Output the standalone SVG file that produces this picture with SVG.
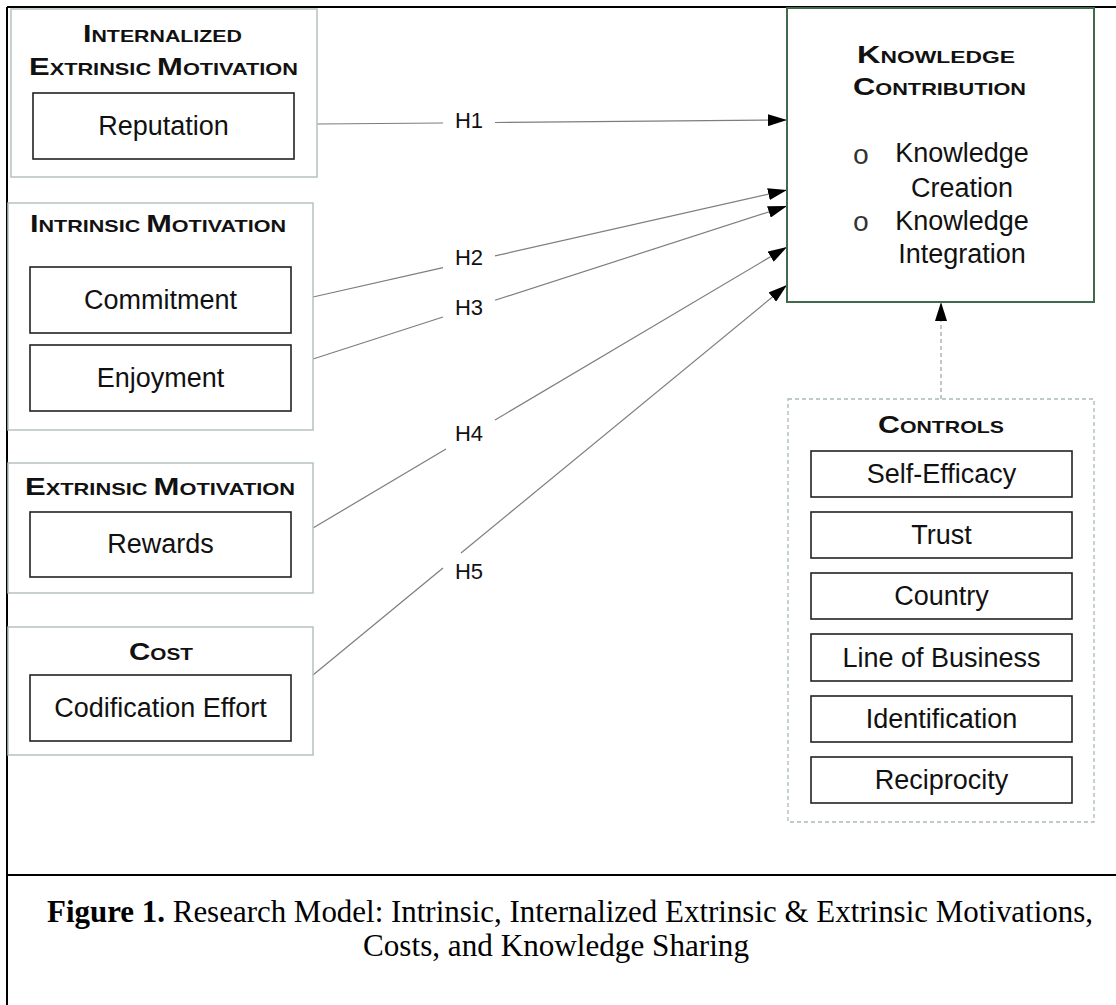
<svg xmlns="http://www.w3.org/2000/svg" width="1116" height="1005" viewBox="0 0 1116 1005">
<style>
.frame{stroke:#000;stroke-width:2;fill:none}
.outer{fill:none;stroke:#b4c3b9;stroke-width:1.5}
.inner{fill:#fff;stroke:#222;stroke-width:1.6}
.kc{fill:#fff;stroke:#3f6b4c;stroke-width:2}
.ctl{fill:none;stroke:#a9bcb0;stroke-width:1.3;stroke-dasharray:4 3}
.lbl{font-family:"Liberation Sans",Arial,sans-serif;font-size:27px;fill:#111;text-anchor:middle}
.ttl{font-family:"Liberation Sans",Arial,sans-serif;font-weight:bold;font-size:16.5px;fill:#111}
.big{font-size:23.5px}
.h{font-family:"Liberation Sans",Arial,sans-serif;font-size:22px;fill:#111;text-anchor:middle}
.bul{font-family:"Liberation Mono","Courier New",monospace;font-size:28px;fill:#333;text-anchor:middle}
.con{stroke:#7d7d7d;stroke-width:1.2;fill:none}
.dash{stroke:#a0a0a0;stroke-width:1.2;stroke-dasharray:4 3;fill:none}
.cap{font-family:"Liberation Serif","Times New Roman",serif;font-size:31px;fill:#000}
</style>
<defs>
<marker id="arr" viewBox="0 0 19 12" refX="19" refY="6" markerWidth="19" markerHeight="12" markerUnits="userSpaceOnUse" orient="auto">
<path d="M0,0 L19,6 L0,12 Z" fill="#000"/>
</marker>
</defs>
<rect width="1116" height="1005" fill="#fff"/>
<g id="frame">
<path class="frame" d="M7,7 H1116 M7,7 V1005 M7,875 H1116"/>
</g>
<g id="connectors">
<path class="con" d="M317,124 L443,123"/>
<path class="con" d="M495,122.5 L787,120" marker-end="url(#arr)"/>
<path class="con" d="M313,297 L443,267.7"/>
<path class="con" d="M495,255.9 L787,190" marker-end="url(#arr)"/>
<path class="con" d="M313,359 L443,317"/>
<path class="con" d="M495,300.3 L787,206" marker-end="url(#arr)"/>
<path class="con" d="M313,528 L446,449"/>
<path class="con" d="M495,420 L787,247" marker-end="url(#arr)"/>
<path class="con" d="M313,675 L443,568"/>
<path class="con" d="M461,553 L787,285" marker-end="url(#arr)"/>
<path class="dash" d="M941,399 L941,302" marker-end="url(#arr)"/>
<text class="h" x="469" y="128">H1</text>
<text class="h" x="469" y="265">H2</text>
<text class="h" x="469" y="315">H3</text>
<text class="h" x="469" y="441">H4</text>
<text class="h" x="469" y="579">H5</text>
</g>
<g id="internalized">
<rect class="outer" x="11" y="9" width="306" height="168"/>
<text class="ttl" x="83" y="42" textLength="159" lengthAdjust="spacingAndGlyphs"><tspan class="big">I</tspan>NTERNALIZED</text>
<text class="ttl" x="29" y="75" textLength="269" lengthAdjust="spacingAndGlyphs"><tspan class="big">E</tspan>XTRINSIC <tspan class="big">M</tspan>OTIVATION</text>
<rect class="inner" x="33" y="93" width="261" height="66"/>
<text class="lbl" x="163.5" y="135">Reputation</text>
</g>
<g id="intrinsic">
<rect class="outer" x="8" y="203" width="305" height="227"/>
<text class="ttl" x="30" y="232" textLength="256" lengthAdjust="spacingAndGlyphs"><tspan class="big">I</tspan>NTRINSIC <tspan class="big">M</tspan>OTIVATION</text>
<rect class="inner" x="30" y="267" width="261" height="66"/>
<text class="lbl" x="160.5" y="309">Commitment</text>
<rect class="inner" x="30" y="345" width="261" height="66"/>
<text class="lbl" x="160.5" y="387">Enjoyment</text>
</g>
<g id="extrinsic">
<rect class="outer" x="8" y="463" width="305" height="130"/>
<text class="ttl" x="25" y="495" textLength="270" lengthAdjust="spacingAndGlyphs"><tspan class="big">E</tspan>XTRINSIC <tspan class="big">M</tspan>OTIVATION</text>
<rect class="inner" x="30" y="512" width="261" height="65"/>
<text class="lbl" x="160.5" y="553">Rewards</text>
</g>
<g id="cost">
<rect class="outer" x="8" y="627" width="305" height="128"/>
<text class="ttl" x="129" y="660" textLength="64" lengthAdjust="spacingAndGlyphs"><tspan class="big">C</tspan>OST</text>
<rect class="inner" x="30" y="675" width="261" height="66"/>
<text class="lbl" x="160.5" y="717">Codification Effort</text>
</g>
<g id="knowledge">
<rect class="kc" x="787" y="8" width="307" height="294"/>
<text class="ttl" x="857" y="63" textLength="158" lengthAdjust="spacingAndGlyphs"><tspan class="big">K</tspan>NOWLEDGE</text>
<text class="ttl" x="853" y="95" textLength="173" lengthAdjust="spacingAndGlyphs"><tspan class="big">C</tspan>ONTRIBUTION</text>
<text class="bul" x="861" y="164">o</text>
<text class="lbl" x="962" y="162">Knowledge</text>
<text class="lbl" x="962" y="197">Creation</text>
<text class="bul" x="861" y="231">o</text>
<text class="lbl" x="962" y="230">Knowledge</text>
<text class="lbl" x="962" y="263">Integration</text>
</g>
<g id="controls">
<rect class="ctl" x="788" y="399" width="306" height="423"/>
<text class="ttl" x="878" y="433" textLength="126" lengthAdjust="spacingAndGlyphs"><tspan class="big">C</tspan>ONTROLS</text>
<rect class="inner" x="811" y="451" width="261" height="46"/>
<text class="lbl" x="941.5" y="483">Self-Efficacy</text>
<rect class="inner" x="811" y="512" width="261" height="46"/>
<text class="lbl" x="941.5" y="544">Trust</text>
<rect class="inner" x="811" y="573" width="261" height="46"/>
<text class="lbl" x="941.5" y="605">Country</text>
<rect class="inner" x="811" y="634" width="261" height="47"/>
<text class="lbl" x="941.5" y="667">Line of Business</text>
<rect class="inner" x="811" y="696" width="261" height="46"/>
<text class="lbl" x="941.5" y="728">Identification</text>
<rect class="inner" x="811" y="757" width="261" height="46"/>
<text class="lbl" x="941.5" y="789">Reciprocity</text>
</g>
<g id="caption">
<text class="cap" x="47" y="922" textLength="1046" lengthAdjust="spacingAndGlyphs"><tspan font-weight="bold">Figure 1.</tspan> Research Model: Intrinsic, Internalized Extrinsic &amp; Extrinsic Motivations,</text>
<text class="cap" x="363" y="956" textLength="386" lengthAdjust="spacingAndGlyphs">Costs, and Knowledge Sharing</text>
</g>
</svg>
